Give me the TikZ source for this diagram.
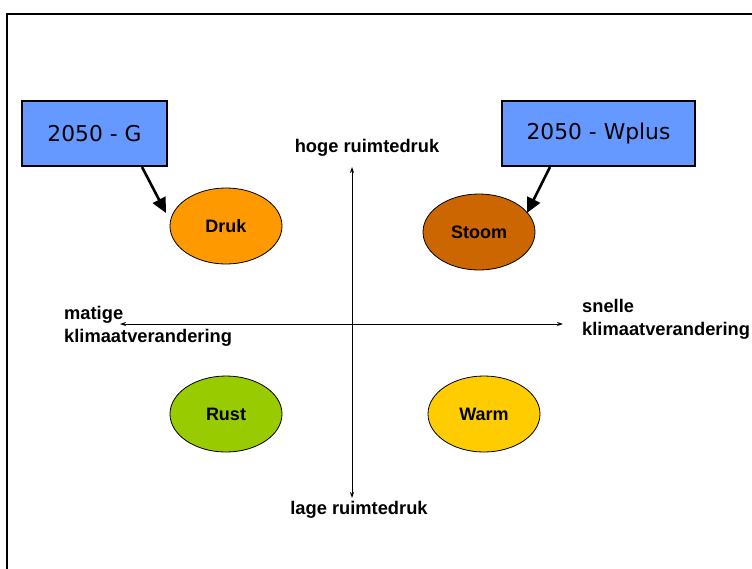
\documentclass[tikz,border=0pt]{standalone}
\usepackage{fontspec}
\setmainfont{Liberation Sans}
\newfontfamily\boxfont{DejaVu Sans}
\usetikzlibrary{shapes.geometric,arrows.meta,calc}
\definecolor{scenblue}{HTML}{6699FF}
\definecolor{drukcol}{HTML}{FF9900}
\definecolor{stoomcol}{HTML}{CC6600}
\definecolor{rustcol}{HTML}{99CC00}
\definecolor{warmcol}{HTML}{FFCC00}
\tikzset{
  scenario/.style={draw=black, line width=2pt, fill=scenblue, minimum height=65pt,
    inner sep=0pt, font=\boxfont\fontsize{21.8}{24}\selectfont},
  quadrant/.style={ellipse, draw=black, line width=0.8pt, minimum width=112pt,
    minimum height=76pt, inner sep=0pt, font=\bfseries\fontsize{18}{21}\selectfont},
  axislabel/.style={font=\bfseries\fontsize{18.3}{23}\selectfont, inner sep=0pt},
  axis/.style={line width=0.8pt, {Stealth[length=6pt,width=4pt]}-{Stealth[length=6pt,width=4pt]}},
  pointer/.style={line width=2.6pt, -{Triangle[length=15pt,width=14pt]}}
}
\begin{document}
\begin{tikzpicture}[x=1pt, y=-1pt]
  \useasboundingbox (0,0) rectangle (752,568);
  % outer frame, running off the right and bottom edges
  \draw[line width=2pt] (7,580) -- (7,14) -- (770,14);

  % scenario boxes
  \node[scenario, minimum width=145pt] (boxG) at (94.5,133.5) {2050 - G};
  \node[scenario, minimum width=193pt] (boxW) at (598.5,133.5) {2050 - Wplus};

  % quadrant ellipses
  \node[quadrant, fill=drukcol]  (druk)  at (226,226) {Druk};
  \node[quadrant, fill=stoomcol] (stoom) at (479,232) {Stoom};
  \node[quadrant, fill=rustcol]  (rust)  at (226,414) {Rust};
  \node[quadrant, fill=warmcol]  (warm)  at (484,414) {Warm};

  % axis end labels
  \node[axislabel] (hoog) at (367,148) {hoge ruimtedruk};
  \node[axislabel] (laag) at (359,510) {lage ruimtedruk};
  \node[axislabel, align=left, anchor=north west] (matig) at (64,306) {matige\\klimaatverandering};
  \node[axislabel, align=left, anchor=north west] (snel) at (582,299) {snelle\\klimaatverandering};

  % axes
  \coordinate (top) at (352,167);
  \coordinate (bottom) at (352,498);
  \coordinate (left) at (120,324);
  \coordinate (right) at (563,324);
  \draw[axis] (bottom) -- (top);
  \draw[axis] (left) -- (right);

  % pointers from the scenarios to their quadrants
  \coordinate (gStart) at ($(boxG.south west)+(121,0)$);
  \coordinate (gEnd) at (166,213);
  \coordinate (wStart) at ($(boxW.south west)+(49,0)$);
  \coordinate (wEnd) at (527,213);
  \draw[pointer] (gStart) -- (gEnd);
  \draw[pointer] (wStart) -- (wEnd);
\end{tikzpicture}
\end{document}
